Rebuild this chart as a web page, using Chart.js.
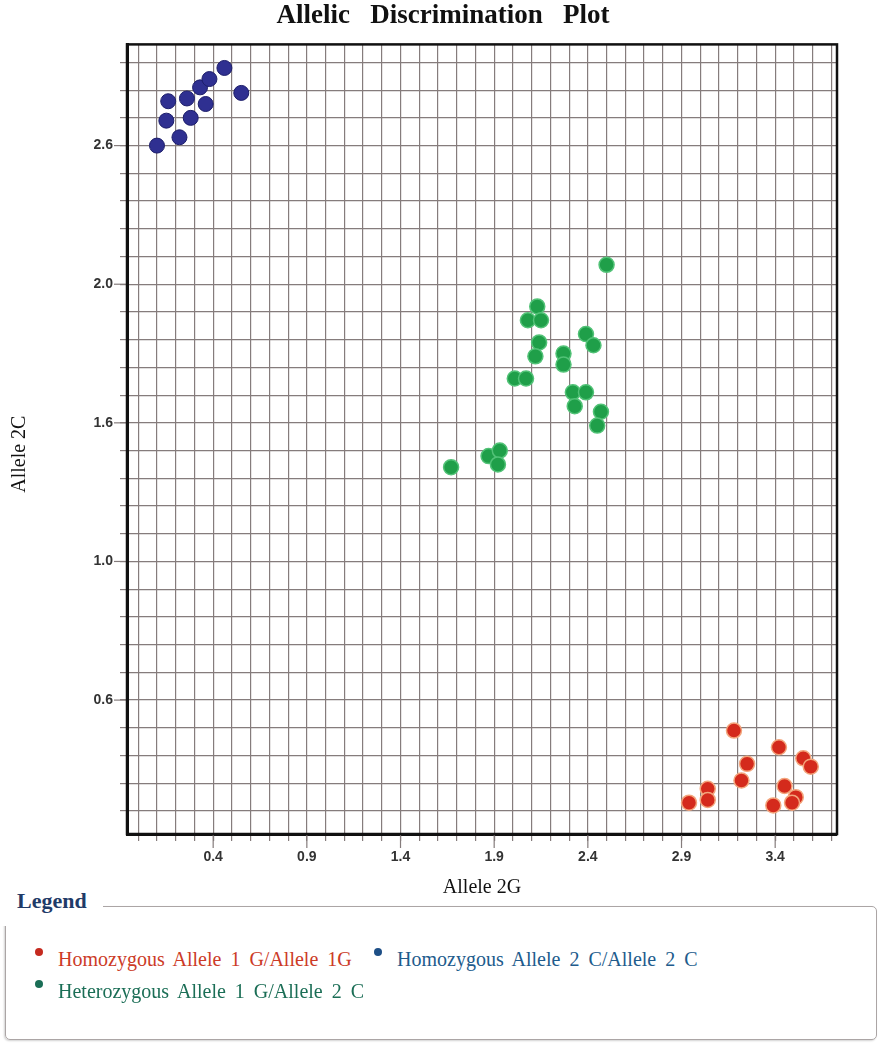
<!DOCTYPE html>
<html lang="en">

<head>
    <meta charset="UTF-8">
    <title>Allelic Discrimination Plot</title>
    <script src="https://cdn.jsdelivr.net/npm/chart.js"></script>
    <style>
        body {
            margin: 0;
            background: #fff;
            width: 886px;
            height: 1050px;
            position: relative;
            overflow: hidden;
        }

        #grafico {
            position: absolute;
            left: 0;
            top: 0;
        }

        .caixa {
            position: absolute;
            left: 5px;
            top: 906px;
            width: 870px;
            height: 132px;
            border: 1.5px solid #aba5a5;
            border-radius: 5px;
            box-shadow: -1px 1px 2px rgba(0, 0, 0, 0.18);
        }

        .titulo_legenda {
            position: absolute;
            left: 0;
            top: 888px;
            width: 103px;
            height: 38px;
            line-height: 38px;
            padding-left: 17px;
            box-sizing: border-box;
            background: #fff;
            font: bold 22px 'Liberation Serif';
            color: #1f3b68;
        }

        .item {
            position: absolute;
            font: 20px 'Liberation Serif';
            line-height: 20px;
            word-spacing: 4px;
            white-space: nowrap;
        }

        .ponto {
            position: absolute;
            width: 8px;
            height: 8px;
            border-radius: 50%;
        }
    </style>
</head>

<body>

    <canvas id="grafico" width="886" height="900"></canvas>

    <div class="caixa"></div>
    <div class="titulo_legenda">Legend</div>
    <div id="legenda"></div>

</body>

</html>

<script>

    // series names (legend order)
    var seriesNames = ['Homozygous Allele 1 G/Allele 1G', 'Homozygous Allele 2 C/Allele 2 C', 'Heterozygous Allele 1 G/Allele 2 C'];

    // Homozygous Allele 1 G (red)
    var redX = [3.18, 3.42, 3.25, 3.55, 3.59, 3.22, 3.45, 3.04, 3.04, 2.94, 3.39, 3.51, 3.49];
    var redY = [0.49, 0.43, 0.37, 0.39, 0.36, 0.31, 0.29, 0.28, 0.24, 0.23, 0.22, 0.25, 0.23];

    // Homozygous Allele 2 C (blue)
    var blueX = [0.10, 0.22, 0.15, 0.28, 0.16, 0.26, 0.36, 0.33, 0.38, 0.46, 0.55];
    var blueY = [2.60, 2.63, 2.69, 2.70, 2.76, 2.77, 2.75, 2.81, 2.84, 2.88, 2.79];

    // Heterozygous (green)
    var greenX = [2.50, 2.13, 2.08, 2.15, 2.39, 2.43, 2.14, 2.12, 2.27, 2.27, 2.01, 2.07, 2.32, 2.39, 2.33, 2.47, 2.45, 1.87, 1.93, 1.92, 1.67];
    var greenY = [2.17, 2.02, 1.97, 1.97, 1.92, 1.88, 1.89, 1.84, 1.85, 1.81, 1.76, 1.76, 1.71, 1.71, 1.66, 1.64, 1.59, 1.48, 1.50, 1.45, 1.44];

    // labelled ticks, as printed on the axes
    var xTickValues = [0.4, 0.9, 1.4, 1.9, 2.4, 2.9, 3.4];
    var xTickLabels = ['0.4', '0.9', '1.4', '1.9', '2.4', '2.9', '3.4'];
    var yTickValues = [0.6, 1.1, 1.6, 2.1, 2.6];
    var yTickLabels = ['0.6', '1.0', '1.6', '2.0', '2.6'];

    // grid every 0.1
    var xGrid = [];
    for (var i = 0; i <= 37; i++) xGrid.push(i / 10);
    var yGrid = [];
    for (var j = 2; j <= 29; j++) yGrid.push(j / 10);

    function pontos(xs, ys) {
        var lista = [];
        for (var k = 0; k < xs.length; k++) lista.push({ x: xs[k], y: ys[k] });
        return lista;
    }

    function rotulo(valores, rotulos, valor) {
        for (var k = 0; k < valores.length; k++) {
            if (Math.abs(valores[k] - valor) < 0.001) return rotulos[k];
        }
        return '';
    }

    var corGrade = '#857c7c';

    // long ticks on the labelled values + frame round the plot
    var moldura = {
        id: 'moldura',
        afterDraw: function (chart) {
            var ctx = chart.ctx;
            var area = chart.chartArea;
            ctx.save();
            ctx.strokeStyle = corGrade;
            ctx.lineWidth = 1.2;
            xTickValues.forEach(function (v) {
                var px = chart.scales.x.getPixelForValue(v);
                ctx.beginPath();
                ctx.moveTo(px, area.bottom);
                ctx.lineTo(px, area.bottom + 14);
                ctx.stroke();
            });
            yTickValues.forEach(function (v) {
                var py = chart.scales.y.getPixelForValue(v);
                ctx.beginPath();
                ctx.moveTo(area.left, py);
                ctx.lineTo(area.left - 13, py);
                ctx.stroke();
            });
            ctx.strokeStyle = '#111';
            ctx.lineWidth = 2.5;
            ctx.strokeRect(area.left, area.top, area.right - area.left, area.bottom - area.top);
            ctx.restore();
        }
    };

    var ctx1 = document.getElementById('grafico');

    new Chart(ctx1, {
        type: 'scatter',
        data: {
            datasets: [{
                label: seriesNames[0],
                data: pontos(redX, redY),
                backgroundColor: '#d42a1c',
                borderColor: '#f3a57c',
                borderWidth: 1.5,
                pointRadius: 7.5
            }, {
                label: seriesNames[1],
                data: pontos(blueX, blueY),
                backgroundColor: '#2f3091',
                borderColor: '#1d1e6a',
                borderWidth: 1,
                pointRadius: 7.5
            }, {
                label: seriesNames[2],
                data: pontos(greenX, greenY),
                backgroundColor: '#1f9f49',
                borderColor: '#52c277',
                borderWidth: 1.5,
                pointRadius: 7.5
            }]
        },
        options: {
            responsive: false,
            animation: false,
            layout: {
                padding: 0
            },
            scales: {
                x: {
                    type: 'linear',
                    min: -0.06,
                    max: 3.73,
                    afterBuildTicks: function (scale) {
                        scale.ticks = xGrid.map(function (v) { return { value: v }; });
                    },
                    afterFit: function (scale) {
                        scale.height = 66;
                    },
                    grid: { color: corGrade, lineWidth: 1.2, tickLength: 7, tickColor: corGrade },
                    border: { color: '#111', width: 3 },
                    ticks: {
                        autoSkip: false,
                        maxRotation: 0,
                        minRotation: 0,
                        padding: 8,
                        color: '#333',
                        font: { family: 'Liberation Sans', size: 14, weight: 'bold' },
                        callback: function (value) { return rotulo(xTickValues, xTickLabels, value); }
                    },
                    title: {
                        display: true,
                        text: 'Allele 2G',
                        color: '#111',
                        font: { family: 'Liberation Serif', size: 20 },
                        padding: { top: 0, bottom: 0 }
                    }
                },
                y: {
                    type: 'linear',
                    min: 0.117,
                    max: 2.965,
                    afterBuildTicks: function (scale) {
                        scale.ticks = yGrid.map(function (v) { return { value: v }; });
                    },
                    afterFit: function (scale) {
                        scale.width = 127;
                    },
                    grid: { color: corGrade, lineWidth: 1.2, tickLength: 7, tickColor: corGrade },
                    border: { color: '#111', width: 3 },
                    ticks: {
                        autoSkip: false,
                        padding: 7,
                        color: '#333',
                        font: { family: 'Liberation Sans', size: 14, weight: 'bold' },
                        callback: function (value) { return rotulo(yTickValues, yTickLabels, value); }
                    },
                    title: {
                        display: true,
                        text: 'Allele 2C      ',
                        color: '#111',
                        font: { family: 'Liberation Serif', size: 20 },
                        padding: { top: 8, bottom: 0 }
                    }
                },
                // empty strip on the right so the title stays centred on the page
                direita: {
                    type: 'linear',
                    position: 'right',
                    grid: { display: false, drawTicks: false },
                    border: { display: false },
                    ticks: { display: false },
                    afterFit: function (scale) {
                        scale.width = 49;
                    }
                }
            },
            plugins: {
                title: {
                    display: true,
                    text: 'Allelic   Discrimination   Plot',
                    color: '#111',
                    font: { family: 'Liberation Serif', size: 27, weight: 'bold' },
                    padding: { top: 0, bottom: 12 }
                },
                legend: { display: false },
                tooltip: { enabled: false }
            }
        },
        plugins: [moldura]
    });

    // legend under the chart
    var legendaCores = ['#c52a1f', '#1e4f86', '#1a6e56'];
    var legendaTexto = ['#cc3b27', '#215b8c', '#1b6e56'];
    var legendaPos = [[58, 949], [397, 949], [58, 981]];
    var html = '';
    for (var n = 0; n < seriesNames.length; n++) {
        var px = legendaPos[n][0];
        var py = legendaPos[n][1];
        html += '<div class="ponto" style="left:' + (px - 23) + 'px; top:' + (py - 1) + 'px; background:' + legendaCores[n] + '"></div>';
        html += '<div class="item" style="left:' + px + 'px; top:' + py + 'px; color:' + legendaTexto[n] + '">' + seriesNames[n] + '</div>';
    }
    document.getElementById('legenda').innerHTML = html;

</script>
